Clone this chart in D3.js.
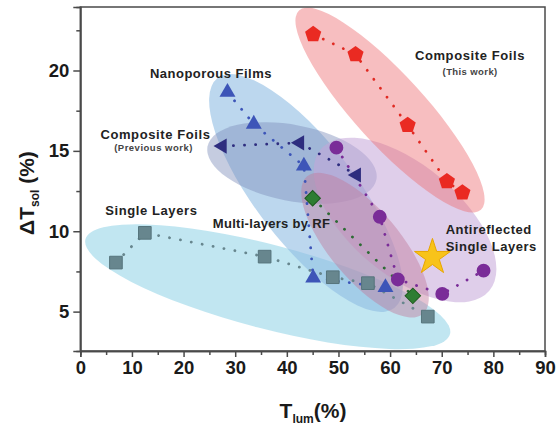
<!DOCTYPE html>
<html><head><meta charset="utf-8">
<script src="https://cdn.jsdelivr.net/npm/d3@7"></script>
<style>
html,body{margin:0;padding:0;background:#fff;}
svg{display:block;font-family:"Liberation Sans",Arial,Helvetica,sans-serif;}
</style></head>
<body><svg id="chart" width="560" height="428"></svg>
<script>
// ---- data ----
const xTicks = [0,10,20,30,40,50,60,70,80,90];
const yTicks = [5,10,15,20];
const compositeThis = [[45.1,22.25],[53.3,21.0],[63.4,16.6],[71.0,13.1],[74.0,12.4]];
const compositePrev = [[27.5,15.3],[42.5,15.5],[53.5,13.5]];
const nanoporous = [[28.5,18.65],[33.6,16.67],[43.3,14.06],[45.1,7.1],[59.1,6.5]];
const multiRF = [[45.0,12.05],[64.4,5.98]];
const singleLayers = [[6.9,8.05],[12.5,9.9],[35.7,8.42],[48.9,7.14],[55.7,6.77],[67.3,4.69]];
const antireflected = [[49.6,15.2],[58.0,10.9],[61.5,7.0],[70.1,6.1],[78.1,7.55]];
const starPoint = [[68.2,8.38]];
// regions: centre and major-axis tip (data units)
const regionCentres = [[36.3,6.55],[43.71,12.38],[41.0,14.25],[62.89,10.70],[55.14,9.14],[59.98,17.54]];
const regionTips    = [[71.6,3.6],[60.83,5.23],[57.35,13.22],[79.21,6.30],[66.35,4.86],[77.60,11.34]];
// labels
const labelTexts = ["Nanoporous Films","Composite Foils","(Previous work)","Composite Foils","(This work)","Single Layers","Multi-layers by RF","Antireflected","Single Layers"];
const labelPos = [[25.31,19.53],[14.56,15.75],[14.18,15.0],[75.47,20.65],[75.5,19.7],[13.76,11.01],[37.03,10.23],[70.77,9.8],[70.77,8.74]];

// ---- layout ----
const W=560,H=428, L=80.3, R=545, T=7, B=351;
const x = d3.scaleLinear().domain([0,90]).range([L,R]);
const y = d3.scaleLinear().domain([2.55,23.95]).range([B,T]);
const svg = d3.select("#chart");

// regions
const regionFill = ["#9fd9ea","#8fbde3","#7f8fba","#c4a6d8","#c27a9c","#ee6f73"];
const regionOp = [0.65,0.6,0.45,0.55,0.45,0.45];
const regionMinor = [42,50,38,55,35,35];
const gReg = svg.append("g");
regionCentres.forEach((c,i)=>{
  const cx=x(c[0]), cy=y(c[1]), tx=x(regionTips[i][0]), ty=y(regionTips[i][1]);
  const a=Math.hypot(tx-cx,ty-cy), ang=Math.atan2(ty-cy,tx-cx)*180/Math.PI;
  gReg.append("ellipse").attr("cx",0).attr("cy",0).attr("rx",a).attr("ry",regionMinor[i])
    .attr("transform",`translate(${cx},${cy}) rotate(${ang})`)
    .attr("fill",regionFill[i]).attr("fill-opacity",regionOp[i]);
});

// axes frame
const axisColor="#4a4a4a";
svg.append("rect").attr("x",L).attr("y",T).attr("width",R-L).attr("height",B-T)
  .attr("fill","none").attr("stroke",axisColor).attr("stroke-width",1.5);

const xAxis = d3.axisBottom(x).tickValues(xTicks).tickSize(6).tickPadding(4).tickFormat(d3.format("d"));
svg.append("g").attr("transform",`translate(0,${B})`).call(xAxis);
const xMinor = d3.axisBottom(x).tickValues(d3.range(5,90,10)).tickSize(4).tickFormat("");
svg.append("g").attr("transform",`translate(0,${B})`).call(xMinor);
const yAxis = d3.axisLeft(y).tickValues(yTicks).tickSize(7).tickPadding(4).tickFormat(d3.format("d"));
svg.append("g").attr("transform",`translate(${L},0)`).call(yAxis);
const yMinor = d3.axisLeft(y).tickValues([7.5,12.5,17.5,22.5]).tickSize(4).tickFormat("");
svg.append("g").attr("transform",`translate(${L},0)`).call(yMinor);
svg.selectAll(".domain").attr("stroke",axisColor).attr("stroke-width",1.5);
svg.selectAll(".tick line").attr("stroke",axisColor).attr("stroke-width",1.5);
svg.selectAll(".tick text").attr("font-size",18.5).attr("font-weight","bold").attr("fill","#1a1a1a")
  .attr("font-family","'Liberation Sans',Arial,sans-serif");

// axis titles
const xt = svg.append("text").attr("x",313).attr("y",418).attr("text-anchor","middle")
  .attr("font-size",21).attr("font-weight","bold").attr("fill","#1a1a1a");
xt.append("tspan").text("T");
xt.append("tspan").attr("font-size",12).attr("dy",5).text("lum");
xt.append("tspan").attr("dy",-5).text("(%)");
const yt = svg.append("text").attr("transform","translate(34,193) rotate(-90)").attr("text-anchor","middle")
  .attr("font-size",21).attr("font-weight","bold").attr("fill","#1a1a1a");
yt.append("tspan").text("ΔT");
yt.append("tspan").attr("font-size",12).attr("dy",5).text("sol");
yt.append("tspan").attr("dy",-5).text(" (%)");

// series
const line = d3.line().x(d=>x(d[0])).y(d=>y(d[1]));
function dotted(data,color){
  svg.append("path").attr("d",line(data)).attr("fill","none").attr("stroke",color)
    .attr("stroke-width",2.8).attr("stroke-linecap","round").attr("stroke-dasharray","0.1,11");
}
function pentagon(r){
  const pts=d3.range(5).map(k=>{const a=-Math.PI/2+k*2*Math.PI/5;return [r*Math.cos(a),r*Math.sin(a)];});
  return "M"+pts.map(p=>p.join(",")).join("L")+"Z";
}
function markers(data,pathStr,fill,stroke,rot){
  svg.append("g").selectAll("path").data(data).join("path")
    .attr("d",pathStr).attr("transform",d=>`translate(${x(d[0])},${y(d[1])}) rotate(${rot||0})`)
    .attr("fill",fill).attr("stroke",stroke||"none").attr("stroke-width",1);
}
dotted(singleLayers,"#67868e");
dotted(nanoporous,"#3d55b8");
dotted(compositePrev,"#2e2d7f");
dotted(multiRF,"#2e6b35");
dotted(antireflected,"#7a2c98");
dotted(compositeThis,"#e02a22");

markers(singleLayers,d3.symbol(d3.symbolSquare,160)(),"#67868e","#56747c");
markers(nanoporous,d3.symbol(d3.symbolTriangle,110)(),"#3d55b8");
markers(compositePrev,d3.symbol(d3.symbolTriangle,100)(),"#2e2d7f",null,-90);
markers(multiRF,d3.symbol(d3.symbolSquare,120)(),"#2e7d32","#1e5a1e",45);
markers(antireflected,d3.symbol(d3.symbolCircle,150)(),"#7a2c98");
markers(compositeThis,pentagon(8.5),"#ea2a22");
markers(starPoint,d3.symbol(d3.symbolStar,400)(),"#f8c31a","#e8a600");

// labels
const labelSize=[13,13,9.5,13,9.5,13,13,13,13];
const labelSpacing=[0.5,0.6,0.5,0.6,0.4,0.6,0.3,0.5,0.5];
const labelAnchor=["middle","middle","middle","middle","middle","middle","middle","start","start"];
svg.append("g").selectAll("text").data(labelTexts).join("text")
  .attr("x",(d,i)=>x(labelPos[i][0])).attr("y",(d,i)=>y(labelPos[i][1]))
  .attr("text-anchor",(d,i)=>labelAnchor[i]).attr("font-size",(d,i)=>labelSize[i])
  .attr("letter-spacing",(d,i)=>labelSpacing[i])
  .attr("font-weight","bold").attr("fill",(d,i)=>labelSize[i]<10?"#444":"#222").text(d=>d);
</script></body></html>
